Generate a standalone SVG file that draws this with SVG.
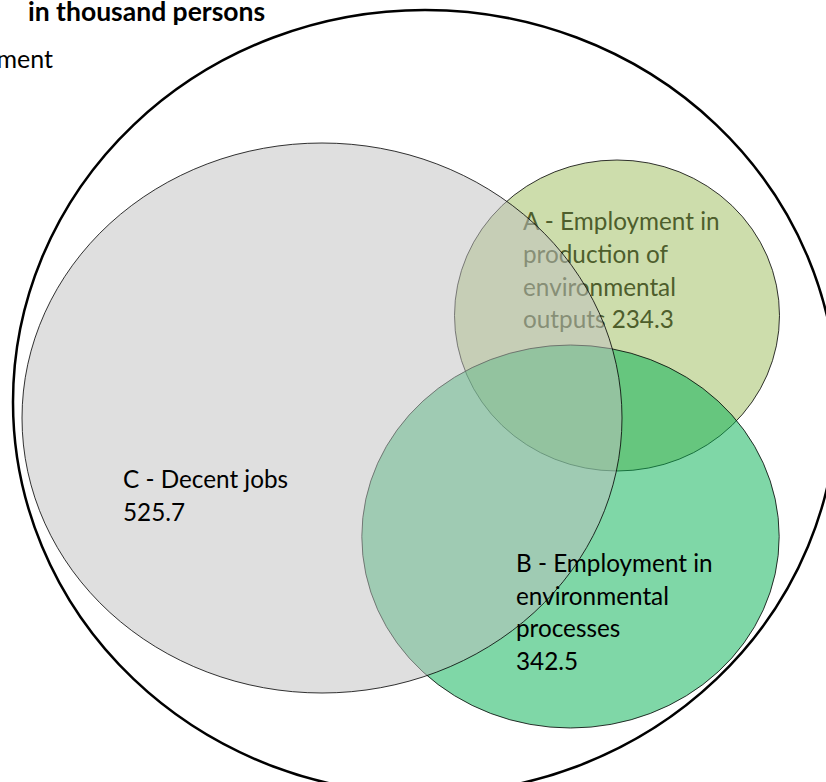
<svg xmlns="http://www.w3.org/2000/svg" width="826" height="782" viewBox="0 0 826 782">
<style>
.venn{stroke:#000;stroke-width:0.8;fill-opacity:0.5}
.lbl{font-family:Lato,"Liberation Sans",sans-serif;font-size:24.3px;fill:#000}
.ttl{font-family:Lato,"Liberation Sans",sans-serif;font-size:26.5px;font-weight:bold;fill:#000}
</style>
<rect width="826" height="782" fill="#fff"/>
<g id="title">
<text class="ttl" x="28" y="21">in thousand persons</text>
<text class="lbl" x="53" y="68" text-anchor="end" style="font-size:25px">ment</text>
</g>
<g id="total">
<ellipse cx="425" cy="402" rx="412" ry="392" fill="none" stroke="#000" stroke-width="2.5"/>
</g>
<g id="A">
<ellipse class="venn" cx="617" cy="315.5" rx="162.5" ry="155.5" fill="#9BBB59"/>
<text class="lbl" style="fill:#4e5e2c"><tspan x="523" y="230">A - Employment in</tspan><tspan x="523" y="263">production of</tspan><tspan x="523" y="296">environmental</tspan><tspan x="523" y="328">outputs 234.3</tspan></text>
</g>
<g id="B">
<ellipse class="venn" cx="570.5" cy="536.5" rx="208.7" ry="191.5" fill="#00B050"/>
</g>
<g id="C">
<ellipse class="venn" cx="322" cy="418" rx="300" ry="275" fill="#BFBFBF"/>
<text class="lbl"><tspan x="123" y="488">C - Decent jobs</tspan><tspan x="123" y="521">525.7</tspan></text>
</g>
<g id="B-label">
<text class="lbl"><tspan x="516" y="572">B - Employment in</tspan><tspan x="516" y="605">environmental</tspan><tspan x="516" y="637">processes</tspan><tspan x="516" y="670">342.5</tspan></text>
</g>
</svg>
